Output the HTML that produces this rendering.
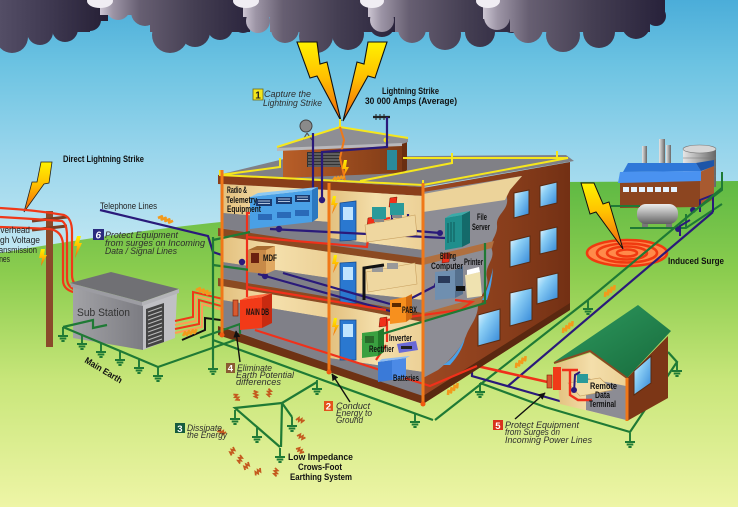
<!DOCTYPE html>
<html><head><meta charset="utf-8"><title>Lightning protection diagram</title>
<style>html,body{margin:0;padding:0;background:#fff;overflow:hidden}svg{display:block}
.lb{font-weight:bold;fill:#111;font-size:9px}
.it{font-style:italic;fill:#2e2e2e;font-size:9.5px}
.nm{fill:#222;font-size:9px}
</style></head><body>
<svg xmlns="http://www.w3.org/2000/svg" width="738" height="507" viewBox="0 0 738 507" font-family="'Liberation Sans', sans-serif">
<defs>
 <linearGradient id="sky" x1="0" y1="0" x2="0" y2="260" gradientUnits="userSpaceOnUse">
  <stop offset="0" stop-color="#4badd9"/><stop offset="0.25" stop-color="#6cc3e2"/><stop offset="0.6" stop-color="#9ad6ec"/><stop offset="1" stop-color="#c4e8f3"/>
 </linearGradient>
 <linearGradient id="grass" x1="0" y1="175" x2="0" y2="507" gradientUnits="userSpaceOnUse">
  <stop offset="0" stop-color="#5cb843"/><stop offset="0.3" stop-color="#8ccd4f"/><stop offset="0.62" stop-color="#c8e67a"/><stop offset="1" stop-color="#eef5a6"/>
 </linearGradient>
 <linearGradient id="cl1" gradientUnits="userSpaceOnUse" x1="-10" y1="0" x2="105" y2="0"><stop offset="0" stop-color="#58526a"/><stop offset="0.5" stop-color="#403a52"/><stop offset="1" stop-color="#262036"/></linearGradient>
 <linearGradient id="cl2" gradientUnits="userSpaceOnUse" x1="100" y1="0" x2="258" y2="0"><stop offset="0" stop-color="#cdc6d3"/><stop offset="0.08" stop-color="#9d95a6"/><stop offset="0.25" stop-color="#675f72"/><stop offset="0.6" stop-color="#443e52"/><stop offset="1" stop-color="#27213a"/></linearGradient>
 <linearGradient id="cl3" gradientUnits="userSpaceOnUse" x1="243" y1="0" x2="402" y2="0"><stop offset="0" stop-color="#cdc6d3"/><stop offset="0.08" stop-color="#9d95a6"/><stop offset="0.25" stop-color="#675f72"/><stop offset="0.6" stop-color="#443e52"/><stop offset="1" stop-color="#27213a"/></linearGradient>
 <linearGradient id="cl4" gradientUnits="userSpaceOnUse" x1="368" y1="0" x2="532" y2="0"><stop offset="0" stop-color="#cdc6d3"/><stop offset="0.08" stop-color="#9d95a6"/><stop offset="0.25" stop-color="#675f72"/><stop offset="0.6" stop-color="#443e52"/><stop offset="1" stop-color="#27213a"/></linearGradient>
 <linearGradient id="cl5" gradientUnits="userSpaceOnUse" x1="483" y1="0" x2="666" y2="0"><stop offset="0" stop-color="#cdc6d3"/><stop offset="0.08" stop-color="#9d95a6"/><stop offset="0.25" stop-color="#675f72"/><stop offset="0.6" stop-color="#443e52"/><stop offset="1" stop-color="#27213a"/></linearGradient>
 <linearGradient id="bolt" x1="0" y1="0" x2="0" y2="1"><stop offset="0" stop-color="#fff200"/><stop offset="0.45" stop-color="#ffc000"/><stop offset="1" stop-color="#f0600f"/></linearGradient>
 <linearGradient id="wall" gradientUnits="userSpaceOnUse" x1="423" y1="0" x2="570" y2="0"><stop offset="0" stop-color="#9c4822"/><stop offset="0.6" stop-color="#873d1b"/><stop offset="1" stop-color="#733014"/></linearGradient>
 <linearGradient id="win" x1="0" y1="0" x2="1" y2="1"><stop offset="0" stop-color="#eaf8ff"/><stop offset="0.35" stop-color="#8ccff5"/><stop offset="1" stop-color="#2f84d6"/></linearGradient>
 <linearGradient id="beige" x1="0" y1="0" x2="1" y2="0"><stop offset="0" stop-color="#e3c07e"/><stop offset="0.5" stop-color="#f4dfab"/><stop offset="1" stop-color="#ecd096"/></linearGradient>
 <linearGradient id="metal" x1="0" y1="0" x2="1" y2="0"><stop offset="0" stop-color="#e6e6e6"/><stop offset="0.5" stop-color="#a8a8a8"/><stop offset="1" stop-color="#666"/></linearGradient>
 <linearGradient id="metalv" x1="0" y1="0" x2="0" y2="1"><stop offset="0" stop-color="#ececec"/><stop offset="0.6" stop-color="#9a9a9a"/><stop offset="1" stop-color="#606060"/></linearGradient>
 <linearGradient id="roofG" x1="0" y1="0" x2="1" y2="1"><stop offset="0" stop-color="#2f9c60"/><stop offset="1" stop-color="#176a3c"/></linearGradient>
 <linearGradient id="subF" x1="0" y1="0" x2="1" y2="0"><stop offset="0" stop-color="#a2a2a6"/><stop offset="1" stop-color="#7c7c82"/></linearGradient>
 <linearGradient id="pent" x1="0" y1="0" x2="1" y2="0"><stop offset="0" stop-color="#b85e28"/><stop offset="1" stop-color="#7e3a16"/></linearGradient>
 <marker id="ah" viewBox="0 0 10 10" refX="9" refY="5" markerWidth="5" markerHeight="5" orient="auto"><path d="M0,0 L10,5 L0,10 Z" fill="#111"/></marker>
 <g id="gnd"><path d="M0,0v9M-5,9h10M-3.3,11.5h6.6M-1.6,14h3.2" stroke="#1f7a35" stroke-width="1.9" fill="none"/></g>
 <path id="sp" d="M0,0 l3,-3 l1,3 l3,-3 l1,3 l3,-3 l1,3 l3,-3" fill="none" stroke="#f29a1c" stroke-width="2.6" stroke-linejoin="round"/>
 <path id="sb" d="M0,0 l2,-3 l1,3 l2,-3 l1,3 l2,-3" fill="none" stroke="#c45a1e" stroke-width="1.8"/>
</defs>

<!-- background -->
<rect width="738" height="507" fill="url(#sky)"/>
<path d="M0,253 Q120,232 240,220 Q420,196 560,182 L738,181 L738,507 L0,507 Z" fill="url(#grass)"/>

<!-- clouds -->
<g fill="url(#cl1)"><rect x="-10" y="-5" width="118" height="26"/><circle cx="12" cy="37" r="16"/><circle cx="40" cy="32" r="13"/><circle cx="65" cy="29" r="13"/><circle cx="90" cy="20" r="11"/><rect x="-10" y="10" width="30" height="30"/><rect x="20" y="10" width="70" height="22"/></g>
<g fill="url(#cl2)"><rect x="100" y="-5" width="158" height="20"/><circle cx="118" cy="8" r="12"/><circle cx="145" cy="12" r="14"/><circle cx="170" cy="35" r="18"/><circle cx="195" cy="32" r="15"/><circle cx="220" cy="27" r="13"/><circle cx="243" cy="22" r="11"/><rect x="150" y="10" width="100" height="22"/></g>
<ellipse cx="100" cy="1" rx="13" ry="7" fill="#f0edf3"/>
<g fill="url(#cl3)"><rect x="243" y="-5" width="160" height="22"/><circle cx="258" cy="21" r="12"/><circle cx="285" cy="29" r="14"/><circle cx="316" cy="36" r="17"/><circle cx="348" cy="34" r="16"/><circle cx="382" cy="24" r="13"/><rect x="270" y="10" width="125" height="22"/></g>
<ellipse cx="246" cy="1" rx="13" ry="7" fill="#f0edf3"/>
<g fill="url(#cl4)"><rect x="368" y="-5" width="164" height="22"/><circle cx="382" cy="20" r="12"/><circle cx="412" cy="29" r="14"/><circle cx="445" cy="34" r="16"/><circle cx="480" cy="32" r="15"/><circle cx="512" cy="21" r="12"/><rect x="395" y="10" width="125" height="22"/></g>
<ellipse cx="372" cy="1" rx="12" ry="7" fill="#f0edf3"/>
<g fill="url(#cl5)"><rect x="483" y="-5" width="182" height="24"/><circle cx="497" cy="17" r="13"/><circle cx="528" cy="28" r="15"/><circle cx="563" cy="35" r="17"/><circle cx="599" cy="32" r="16"/><circle cx="636" cy="25" r="14"/><circle cx="656" cy="16" r="10"/><rect x="510" y="10" width="140" height="22"/></g>
<ellipse cx="488" cy="1" rx="12" ry="7" fill="#f0edf3"/>

<!-- main lightning bolts -->
<polygon points="297,42 317,42 320,64 327,62 341,121 317,76 310,78" fill="url(#bolt)" stroke="#111" stroke-width="1.1"/>
<polygon points="387,42 368,42 364,64 357,62 343,121 368,76 375,78" fill="url(#bolt)" stroke="#111" stroke-width="1.1"/>
<polygon points="52,162 41,162 37,182 32,182 24,212 44,184 49,183" fill="url(#bolt)" stroke="#222" stroke-width="0.8"/>

<!-- factory -->
<g>
 <rect x="642" y="146" width="5" height="20" fill="url(#metal)"/>
 <rect x="659" y="139" width="6" height="27" fill="url(#metal)"/>
 <rect x="666" y="145" width="5" height="21" fill="url(#metal)"/>
 <rect x="683" y="149" width="33" height="38" fill="url(#metal)"/>
 <ellipse cx="699.5" cy="149" rx="16.5" ry="4" fill="#d6d6d6" stroke="#777" stroke-width="0.6"/>
 <path d="M683,158h33M683,167h33M683,176h33" stroke="#777" stroke-width="0.6"/>
 <polygon points="620,182 700,180 700,207 620,208" fill="#8c4520"/>
 <polygon points="700,172 714,166 714,199 700,207" fill="#a85a30"/>
 <polygon points="628,163 696,163 701,171 623,172" fill="#2f78d8"/>
 <polygon points="620,172 701,171 701,181 618,183" fill="#4a92f0"/>
 <polygon points="696,163 714,160 714,166 701,171" fill="#1d55a8"/>
 <g fill="#e4f2ff"><rect x="623" y="187" width="6" height="5"/><rect x="631" y="187" width="6" height="5"/><rect x="639" y="187" width="6" height="5"/><rect x="647" y="187" width="6" height="5"/><rect x="655" y="187" width="6" height="5"/><rect x="663" y="187" width="6" height="5"/><rect x="671" y="187" width="6" height="5"/></g>
 <rect x="642" y="220" width="6" height="9" fill="#777"/><rect x="666" y="220" width="6" height="9" fill="#777"/>
 <rect x="637" y="204" width="41" height="20" rx="9" fill="url(#metalv)"/>
</g>
<g stroke="#1f7a35" stroke-width="2" fill="none">
 <path d="M611,206 L640,206"/><path d="M630,228 L686,228 L722,204"/><path d="M700,207 L722,190 L722,172"/><path d="M686,228 L686,214"/>
</g>
<g stroke="#2a1a7a" stroke-width="2" fill="none"><path d="M713,212 L713,195 L700,200 L700,212"/><path d="M690,220 L680,226 L680,236"/></g>
<circle cx="693" cy="210" r="3" fill="#2a1a7a"/><circle cx="678" cy="229" r="3" fill="#2a1a7a"/>

<!-- induced surge -->
<ellipse cx="627" cy="253" rx="41" ry="14" fill="#ff8a4a"/>
<g fill="none" stroke="#f03a10" stroke-width="2.6"><ellipse cx="627" cy="253" rx="40" ry="13"/><ellipse cx="627" cy="253" rx="30" ry="9.5"/><ellipse cx="627" cy="253" rx="20" ry="6.5"/><ellipse cx="627" cy="253" rx="10" ry="3.5"/></g>
<polygon points="581,183 594,183 603,204 609,202 623,249 596,212 590,214" fill="url(#bolt)" stroke="#111" stroke-width="1"/>

<!-- long earth / signal lines -->
<g fill="none" stroke-width="2.2">
 <path d="M435,420 L588,300 L722,188" stroke="#1f7a35"/>
 <path d="M480,383 L545,407 L630,432 L677,362 L668,352" stroke="#1f7a35"/>
 <path d="M472,300 L472,376 L570,404" stroke="#2a1a7a"/>
 <path d="M508,386 L713,212" stroke="#2a1a7a"/>
 <path d="M423,393 L477,366 L552,383" stroke="#f0301a" stroke-width="2.6"/>
</g>
<use href="#gnd" x="588" y="300"/><use href="#gnd" x="480" y="383"/><use href="#gnd" x="630" y="433"/><use href="#gnd" x="677" y="362"/>
<use href="#sp" transform="translate(516,368) rotate(-40)"/><use href="#sp" transform="translate(563,333) rotate(-40)"/><use href="#sp" transform="translate(605,297) rotate(-40)"/><use href="#sp" transform="translate(448,395) rotate(-40)"/>

<!-- remote house -->
<polygon points="627,378 668,336 668,398 627,421" fill="#7c3616"/>
<polygon points="634,371 651,356 651,383 634,395" fill="url(#win)" stroke="#5a2a10" stroke-width="1"/>
<polygon points="556,364 590,353 626,378 626,420 560,404" fill="url(#beige)"/>
<polygon points="586,378 626,386 626,420 586,410" fill="#8c8c94"/>
<polygon points="568,383 600,378 612,390 580,396" fill="#f2dca6" stroke="#c8a060" stroke-width="0.6"/>
<rect x="577" y="374" width="11" height="9" fill="#2a9a9a"/>
<polygon points="554,362 638,305 671,331 627,378 590,351" fill="url(#roofG)"/>
<path d="M554,363 L590,351 L627,378" fill="none" stroke="#8a4a22" stroke-width="2"/>
<path d="M627,378 L627,421" stroke="#f07818" stroke-width="3"/>
<path d="M562,370 L578,370 M570,370 L570,395 L578,400 L592,400" fill="none" stroke="#f0301a" stroke-width="2.4"/>
<path d="M574,392 L575,375 L580,372" stroke="#2a1a7a" stroke-width="2" fill="none"/>
<circle cx="574" cy="390" r="3" fill="#2a1a7a"/>
<rect x="553" y="367" width="8" height="23" fill="#f03a18"/>
<rect x="547" y="375" width="5" height="13" fill="#d85a30" stroke="#7a1a00" stroke-width="0.6"/>

<!-- pole and wires -->
<rect x="46" y="211" width="7" height="136" fill="#8a4a2a"/>
<path d="M32,221 L67,217 M32,230 L67,226" stroke="#7a3e22" stroke-width="3"/>
<g fill="none" stroke="#f03818" stroke-width="2.2">
 <path d="M0,208 Q35,210 64,215 Q72,218 72,232 L72,275 Q72,287 86,289"/>
 <path d="M0,217 Q35,219 62,221 Q67,224 67,236 L67,278 Q67,290 82,291"/>
 <path d="M0,227 Q30,228 50,229 Q62,231 63,244 L63,280 Q63,291 78,293"/>
</g>
<polygon points="81,236 77,236 74,246 77,246 75,258 82,243 79,243" fill="url(#bolt)"/>
<polygon points="45,249 41,249 39,258 42,258 41,266 47,255 44,255" fill="url(#bolt)"/>

<!-- substation -->
<polygon points="73,287 143,305 143,350 73,338" fill="url(#subF)"/>
<polygon points="143,305 177,293 175,338 143,350" fill="#c0c0c4"/>
<polygon points="146,309 164,303 164,342 146,348" fill="#444"/>
<path d="M148,312 L162,307 M148,316 L162,311 M148,320 L162,315 M148,324 L162,319 M148,328 L162,323 M148,332 L162,327 M148,336 L162,331 M148,340 L162,335 M148,344 L162,339" stroke="#bbb" stroke-width="1"/>
<polygon points="70,283 111,272 179,289 142,302" fill="#707074"/>
<polygon points="70,283 142,302 142,306 71,287" fill="#9c9ca2"/>
<polygon points="142,302 179,289 179,293 142,306" fill="#b4b4b8"/>
<g fill="none" stroke-width="2">
 <path d="M175,321 L193,317 L193,292 L236,302" stroke="#f03818"/>
 <path d="M175,325 L196,321 L196,296 L236,306" stroke="#ff9a55"/>
 <path d="M175,329 L199,324 L199,300 L236,310" stroke="#f03818"/>
 <path d="M175,333 L202,327 L202,304 L236,314" stroke="#ff9a55"/>
 <path d="M182,340 L205,330 L205,318 L236,322" stroke="#111"/>
</g>
<use href="#sp" transform="translate(196,290) rotate(20)"/><use href="#sp" transform="translate(183,336) rotate(-15)"/><use href="#sp" transform="translate(158,218) rotate(22)"/>

<!-- telephone line -->
<path d="M100,210 L208,236 L213,252 L242,262" fill="none" stroke="#2a1a7a" stroke-width="2.2"/>

<!-- building right wall -->
<polygon points="423,188 570,162 570,310 423,404" fill="url(#wall)"/>
<polygon points="423,396 570,303 570,310 423,404" fill="#5a2810"/>
<g fill="url(#win)" stroke="#5a2a10" stroke-width="1">
 <polygon points="540,186 557,182 557,203 540,207"/>
 <polygon points="514,193 529,190 529,214 514,218"/>
 <polygon points="540,231 557,227 557,250 540,254"/>
 <polygon points="510,241 530,236 530,262 510,267"/>
 <polygon points="537,278 558,273 558,298 537,304"/>
 <polygon points="510,293 532,288 532,320 510,326"/>
 <polygon points="478,315 500,309 500,340 478,346"/>
</g>
<!-- torn hole interior -->
<path d="M423,192 L522,176 C515,185 505,190 507,198 C509,210 496,214 497,225 C498,236 489,240 492,250 C495,260 484,266 487,278 C490,290 478,296 478,305 C478,318 470,325 466,336 C460,350 448,362 438,370 L423,378 Z" fill="#8d8d95"/>
<polygon points="423,194 522,176 510,190 505,200 423,212" fill="#ecd39a"/>
<polygon points="423,258 494,241 492,248 423,265" fill="#b07040"/>
<polygon points="423,313 484,296 481,304 423,322" fill="#b07040"/>
<path d="M493,268 Q488,290 482,300 L487,300 Q492,285 493,268 Z" fill="#4aa0e6"/>
<path d="M465,338 Q455,358 443,365 L450,365 Q462,352 465,338 Z" fill="#4aa0e6"/>

<!-- roof -->
<polygon points="218,175 292,157 566,155 574,161 423,187" fill="#808086"/>
<polygon points="218,175 423,187 423,196 218,184" fill="#8a3e1a"/>
<!-- penthouse -->
<polygon points="283,148 402,143 402,173 283,178" fill="url(#pent)"/>
<polygon points="402,143 407,141 407,170 402,173" fill="#6a2e10"/>
<rect x="307" y="152" width="34" height="15" fill="#333"/>
<path d="M308,154h32M308,157h32M308,160h32M308,163h32M308,166h32" stroke="#888" stroke-width="0.9"/>
<rect x="387" y="150" width="10" height="20" fill="#2a8a9a"/>
<polygon points="277,148 340,127 408,138 408,142 402,144 283,150" fill="#8e8e94"/>
<polygon points="277,148 402,143 402,146 277,151" fill="#b8b8bc"/>
<!-- dish & antenna -->
<path d="M307,133 L303,140 M307,133 L312,140" stroke="#555" stroke-width="1.2"/>
<circle cx="306" cy="126" r="6" fill="#8a8a8a" stroke="#444" stroke-width="1"/>
<path d="M373,117 L390,117" stroke="#222" stroke-width="2.2"/>
<path d="M376,114v6M380,114v6M384,114v6" stroke="#222" stroke-width="1"/>
<!-- yellow conductors -->
<g fill="none" stroke="#f6e71c" stroke-width="2">
 <path d="M340,119 L340,127"/>
 <path d="M277,147 L340,127 L408,138"/>
 <path d="M220,170 L220,175 L423,185 L568,158 L557,158 L557,151"/>
 <path d="M403,158 L557,158"/>
 <path d="M220,175 L280,167 L280,158"/>
 <path d="M360,181 L452,163 L452,153"/>
 <path d="M423,180 L423,186"/>
</g>
<path d="M340,127 L344,140 L340,158 L345,180" fill="none" stroke="#f07818" stroke-width="2"/>
<circle cx="386" cy="140" r="2.5" fill="#f6e71c"/>

<!-- front cutaway background -->
<polygon points="222,184 423,196 423,404 222,335" fill="#85858d"/>
<!-- left bay -->
<polygon points="222,184 329,190 329,222 222,213" fill="url(#beige)"/>
<polygon points="222,213 329,222 329,245 222,228" fill="#7f7f87"/>
<polygon points="218,228 329,245 329,252 218,236" fill="#8b4a22"/>
<polygon points="222,236 329,252 329,278 222,262" fill="url(#beige)"/>
<polygon points="222,262 329,278 329,297 222,278" fill="#7f7f87"/>
<polygon points="218,278 329,297 329,304 218,286" fill="#8b4a22"/>
<polygon points="222,286 329,304 329,318 222,300" fill="url(#beige)"/>
<polygon points="222,300 329,318 329,364 222,326" fill="#808088"/>
<polygon points="218,326 329,364 329,372 218,335" fill="#6e3214"/>
<!-- middle bay -->
<polygon points="329,190 423,196 423,250 329,238" fill="url(#beige)"/>
<polygon points="329,238 423,250 423,258 329,245" fill="#7f7f87"/>
<polygon points="329,245 423,258 423,265 329,252" fill="#8b4a22"/>
<polygon points="329,252 423,265 423,300 329,290" fill="url(#beige)"/>
<polygon points="329,290 423,300 423,313 329,297" fill="#7f7f87"/>
<polygon points="329,297 423,313 423,322 329,304" fill="#8b4a22"/>
<polygon points="329,304 423,322 423,372 329,358" fill="url(#beige)"/>
<polygon points="329,358 423,372 423,396 329,364" fill="#7f7f87"/>
<polygon points="329,364 423,396 423,404 329,372" fill="#6e3214"/>
<!-- doors -->
<g fill="#2a78d0" stroke="#1a4a8a" stroke-width="0.8">
 <polygon points="340,203 356,201 356,240 340,241"/>
 <polygon points="340,263 356,262 356,303 340,303"/>
 <polygon points="340,320 356,320 356,360 340,360"/>
</g>
<g fill="#bfe4ff"><rect x="343" y="207" width="10" height="13"/><rect x="343" y="267" width="10" height="13"/><rect x="343" y="324" width="10" height="13"/></g>

<!-- interior wiring (behind equipment) -->
<g fill="none" stroke-width="2.2">
 <path d="M313,133 L313,198" stroke="#2a1a7a"/>
 <path d="M387,117 L387,147 L322,152 L322,200" stroke="#2a1a7a"/>
 <path d="M270,229 L445,238" stroke="#2a1a7a"/>
 <path d="M392,214 L392,229 L440,233 M408,214 L408,230" stroke="#2a1a7a"/>
 <path d="M258,274 L397,313" stroke="#2a1a7a"/>
 <path d="M283,273 L390,304" stroke="#2a1a7a"/>
 <path d="M408,300 L437,285" stroke="#2a1a7a"/>
 <path d="M247,297 L247,213 L252,213" stroke="#f0301a"/>
 <path d="M247,237 L367,247 L370,222 L390,218" stroke="#f0301a"/>
 <path d="M247,287 L386,310" stroke="#f0301a"/>
 <path d="M255,330 L430,386 L477,366" stroke="#f0301a"/>
 <path d="M455,300 L472,302 L460,310 L387,320 L387,342" stroke="#f0301a"/>
 <path d="M386,345 L376,360" stroke="#f0301a"/>
 <path d="M485,243 L485,303 L362,340" stroke="#1f7a35"/>
 <path d="M213,240 L250,232" stroke="#1f7a35"/>
 <path d="M213,265 L250,270" stroke="#1f7a35"/>
 <path d="M200,338 L240,324 L240,334" stroke="#1f7a35"/>
</g>
<g fill="#2a1a7a"><circle cx="313" cy="198" r="3.2"/><circle cx="322" cy="200" r="3.2"/><circle cx="392" cy="222" r="3"/><circle cx="408" cy="222" r="3"/><circle cx="440" cy="233" r="3"/><circle cx="242" cy="262" r="3.2"/><circle cx="265" cy="276" r="3.2"/><circle cx="279" cy="229" r="3.2"/><circle cx="437" cy="285" r="3"/></g>
<g fill="#f0301a" stroke="#7a1000" stroke-width="0.5"><polygon points="390,198 397,197 396,206 389,207"/><polygon points="368,218 375,217 374,226 367,227"/><polygon points="443,254 450,253 449,262 442,263"/><polygon points="380,318 387,317 386,326 379,327"/></g>

<!-- equipment -->
<polygon points="250,197 312,190 312,222 250,229" fill="#4aa0e6"/>
<polygon points="250,197 258,193 318,187 312,190" fill="#8cc8f4"/>
<polygon points="312,190 318,187 318,218 312,222" fill="#2a78c0"/>
<g fill="#1a3a70"><rect x="256" y="199" width="16" height="7"/><rect x="276" y="197" width="16" height="7"/><rect x="295" y="195" width="15" height="7"/></g>
<path d="M258,201h12M258,203.5h12M278,199h12M278,201.5h12M297,197h11M297,199.5h11" stroke="#dfefff" stroke-width="0.8"/>
<g fill="#2a6ab8"><rect x="258" y="214" width="14" height="6"/><rect x="277" y="212" width="14" height="6"/><rect x="295" y="210" width="14" height="6"/></g>

<polygon points="248,250 266,250 266,274 248,272" fill="#c88a48"/>
<polygon points="266,250 275,246 275,270 266,274" fill="#e0a860"/>
<polygon points="248,250 257,246 275,246 266,250" fill="#a86c30"/>
<rect x="251" y="253" width="8" height="10" fill="#6a2010"/>

<polygon points="240,300 262,297 262,328 240,330" fill="#f23a18"/>
<polygon points="262,297 272,293 272,323 262,328" fill="#c82a10"/>
<polygon points="240,300 250,296 272,293 262,297" fill="#ff6a40"/>
<rect x="233" y="300" width="5" height="16" fill="#d85a30" stroke="#7a1a00" stroke-width="0.6"/>

<polygon points="365,225 415,215 417,235 367,242" fill="#efd7a0" stroke="#c8a060" stroke-width="0.6"/>
<rect x="372" y="207" width="14" height="12" fill="#2a9a9a"/><rect x="390" y="203" width="14" height="12" fill="#2a9a9a"/>
<rect x="374" y="219" width="10" height="3" fill="#888"/><rect x="392" y="215" width="10" height="3" fill="#888"/>

<polygon points="366,272 415,263 417,284 368,292" fill="#efd7a0" stroke="#c8a060" stroke-width="0.6"/>
<rect x="372" y="266" width="11" height="6" fill="#999"/><rect x="387" y="263" width="11" height="6" fill="#999"/>
<path d="M364,300 L364,268 L384,265" fill="none" stroke="#111" stroke-width="3"/>

<polygon points="390,300 406,297 406,322 390,324" fill="#f7901e"/>
<polygon points="406,297 412,294 412,318 406,322" fill="#d06a10"/>
<rect x="392" y="303" width="9" height="4" fill="#5a2a00"/>

<polygon points="362,333 378,331 378,356 362,358" fill="#3aa040"/>
<polygon points="378,331 384,328 384,352 378,356" fill="#237a2a"/>
<rect x="365" y="336" width="9" height="7" fill="#2a6a2a"/>

<polygon points="397,344 416,341 418,350 399,353" fill="#6a6ad6"/>
<rect x="401" y="346" width="11" height="3" fill="#222"/>

<polygon points="378,362 392,360 392,380 378,382" fill="#3a7ad8"/>
<polygon points="392,360 406,358 406,378 392,380" fill="#4c8ae6"/>
<polygon points="378,362 382,359 410,356 406,358" fill="#8cbcf4"/>

<polygon points="445,218 462,215 462,247 445,250" fill="#1f8e8c"/>
<polygon points="462,215 470,211 470,243 462,247" fill="#146a6a"/>
<polygon points="445,218 452,214 470,211 462,215" fill="#3aaaa8"/>
<path d="M448,223v20M451,222v20M454,222v20" stroke="#0f5a5a" stroke-width="1"/>

<polygon points="435,272 455,270 455,298 435,300" fill="#6f8fb0"/>
<polygon points="455,270 463,266 463,294 455,298" fill="#55708e"/>
<rect x="438" y="276" width="12" height="7" fill="#2a3a5a"/>
<rect x="456" y="286" width="9" height="5" fill="#111"/>
<polygon points="465,275 480,272 482,296 467,298" fill="#efe2b0"/>
<polygon points="467,270 479,267 480,272 467,275" fill="#fff"/>

<!-- pipes -->
<g stroke="#f07818" stroke-width="3"><path d="M222,170 L222,335"/><path d="M329,183 L329,372"/><path d="M423,183 L423,404"/></g>
<g fill="#f05a10"><circle cx="222" cy="335" r="2.5"/><circle cx="329" cy="372" r="2.5"/><circle cx="423" cy="404" r="2.5"/></g>
<g fill="url(#bolt)">
 <polygon points="336,196 333,196 331,205 334,205 332,214 338,203 335,203"/>
 <polygon points="337,255 334,255 332,264 335,264 333,273 339,262 336,262"/>
 <polygon points="337,318 334,318 332,327 335,327 333,336 339,325 336,325"/>
 <polygon points="347,160 344,160 342,169 345,169 343,178 349,167 346,167"/>
</g>
<use href="#sp" transform="translate(333,180) rotate(-8) scale(0.8)"/>

<!-- earth grid -->
<g fill="none" stroke="#1f7a35" stroke-width="2.2">
 <path d="M63,327 L158,367 L235,340"/>
 <path d="M63,327 L93,320 L93,328 L107,325"/>
 <path d="M213,237 L213,360"/>
 <path d="M213,340 L317,378 L433,420"/>
 <path d="M282,403 L317,382"/>
 <path d="M282,403 L235,408 L257,427 L280,447"/>
 <path d="M282,403 L281,447"/>
 <path d="M282,403 L292,417"/>
</g>
<use href="#gnd" x="63" y="327"/><use href="#gnd" x="82" y="335"/><use href="#gnd" x="101" y="343"/><use href="#gnd" x="120" y="351"/><use href="#gnd" x="139" y="359"/><use href="#gnd" x="158" y="367"/>
<use href="#gnd" x="213" y="360"/><use href="#gnd" x="317" y="380"/><use href="#gnd" x="415" y="413"/>
<use href="#gnd" x="235" y="410"/><use href="#gnd" x="257" y="428"/><use href="#gnd" x="280" y="448"/><use href="#gnd" x="292" y="417"/>
<use href="#sb" transform="translate(240,400) rotate(-120)"/>
<use href="#sb" transform="translate(258,398) rotate(-100)"/>
<use href="#sb" transform="translate(270,397) rotate(-80)"/>
<use href="#sb" transform="translate(226,432) rotate(-160)"/>
<use href="#sb" transform="translate(233,447) rotate(120)"/>
<use href="#sb" transform="translate(240,455) rotate(110)"/>
<use href="#sb" transform="translate(248,462) rotate(130)"/>
<use href="#sb" transform="translate(260,468) rotate(140)"/>
<use href="#sb" transform="translate(275,468) rotate(100)"/>
<use href="#sb" transform="translate(296,420) rotate(20)"/>
<use href="#sb" transform="translate(297,436) rotate(30)"/>
<use href="#sb" transform="translate(296,449) rotate(40)"/>

<!-- arrows -->
<path d="M240,362 L236,331" stroke="#111" stroke-width="1.4" marker-end="url(#ah)"/>
<path d="M350,402 L332,374" stroke="#111" stroke-width="1.4" marker-end="url(#ah)"/>
<path d="M515,419 L545,393" stroke="#111" stroke-width="1.4" marker-end="url(#ah)"/>

<!-- labels -->
<rect x="253" y="89" width="10" height="11" fill="#f3e61c" stroke="#6a6a20" stroke-width="0.8"/>
<text x="255.3" y="98.5" font-size="10" font-weight="bold" fill="#222">1</text>
<text x="264" y="97" class="it" textLength="47" lengthAdjust="spacingAndGlyphs">Capture the</text>
<text x="263" y="106" class="it" textLength="59" lengthAdjust="spacingAndGlyphs">Lightning Strike</text>
<text x="382" y="94" class="lb" textLength="57" lengthAdjust="spacingAndGlyphs">Lightning Strike</text>
<text x="365" y="104" class="lb" textLength="92" lengthAdjust="spacingAndGlyphs">30 000 Amps (Average)</text>
<text x="63" y="162" class="lb" textLength="81" lengthAdjust="spacingAndGlyphs">Direct Lightning Strike</text>
<text x="100" y="209" class="nm" textLength="57" lengthAdjust="spacingAndGlyphs">Telephone Lines</text>
<rect x="93" y="229" width="11" height="11" fill="#2b2b7e"/>
<text x="95.5" y="238.5" font-size="10" font-weight="bold" font-style="italic" fill="#fff">6</text>
<text x="105" y="238" class="it" font-size="10" textLength="73" lengthAdjust="spacingAndGlyphs">Protect Equipment</text>
<text x="105" y="246" class="it" font-size="10" textLength="100" lengthAdjust="spacingAndGlyphs">from surges on Incoming</text>
<text x="105" y="254" class="it" font-size="10" textLength="72" lengthAdjust="spacingAndGlyphs">Data / Signal Lines</text>
<text x="-6" y="233" class="nm" textLength="36" lengthAdjust="spacingAndGlyphs">Overhead</text>
<text x="-8" y="243" class="nm" textLength="48" lengthAdjust="spacingAndGlyphs">High Voltage</text>
<text x="-8" y="253" class="nm" textLength="45" lengthAdjust="spacingAndGlyphs">Transmission</text>
<text x="-6" y="262" class="nm" textLength="16" lengthAdjust="spacingAndGlyphs">Lines</text>
<text x="77" y="316" font-size="11" fill="#333" textLength="53" lengthAdjust="spacingAndGlyphs">Sub Station</text>
<text x="84" y="362" class="lb" transform="rotate(31 84 362)" textLength="42" lengthAdjust="spacingAndGlyphs">Main Earth</text>
<text x="227" y="193" class="lb" font-size="8.5" textLength="20" lengthAdjust="spacingAndGlyphs">Radio &amp;</text>
<text x="226" y="203" class="lb" font-size="8.5" textLength="31" lengthAdjust="spacingAndGlyphs">Telemetry</text>
<text x="227" y="212" class="lb" font-size="8.5" textLength="34" lengthAdjust="spacingAndGlyphs">Equipment</text>
<text x="263" y="261" class="lb" font-size="8.5" textLength="14" lengthAdjust="spacingAndGlyphs">MDF</text>
<text x="246" y="315" class="lb" font-size="8" fill="#4a0a00" textLength="23" lengthAdjust="spacingAndGlyphs">MAIN DB</text>
<text x="477" y="220" class="lb" font-size="8.5" textLength="10" lengthAdjust="spacingAndGlyphs">File</text>
<text x="472" y="230" class="lb" font-size="8.5" textLength="18" lengthAdjust="spacingAndGlyphs">Server</text>
<text x="440" y="259" class="lb" font-size="8.5" textLength="16" lengthAdjust="spacingAndGlyphs">Billing</text>
<text x="431" y="269" class="lb" font-size="8.5" textLength="32" lengthAdjust="spacingAndGlyphs">Computer</text>
<text x="464" y="265" class="lb" font-size="8.5" textLength="19" lengthAdjust="spacingAndGlyphs">Printer</text>
<text x="402" y="313" class="lb" font-size="8.5" textLength="15" lengthAdjust="spacingAndGlyphs">PABX</text>
<text x="389" y="341" class="lb" font-size="8.5" textLength="23" lengthAdjust="spacingAndGlyphs">Inverter</text>
<text x="369" y="352" class="lb" font-size="8.5" textLength="25" lengthAdjust="spacingAndGlyphs">Rectifier</text>
<text x="393" y="381" class="lb" font-size="8.5" textLength="26" lengthAdjust="spacingAndGlyphs">Batteries</text>
<rect x="226" y="363" width="9" height="10" fill="#8a5a32"/>
<text x="227.8" y="371.5" font-size="9.5" font-weight="bold" fill="#fff">4</text>
<text x="237" y="371" class="it" font-size="9" textLength="35" lengthAdjust="spacingAndGlyphs">Eliminate</text>
<text x="236" y="378" class="it" font-size="9" textLength="58" lengthAdjust="spacingAndGlyphs">Earth Potential</text>
<text x="236" y="385" class="it" font-size="9" textLength="45" lengthAdjust="spacingAndGlyphs">differences</text>
<rect x="324" y="401" width="9" height="10" fill="#e2521c"/>
<text x="325.8" y="409.5" font-size="9.5" font-weight="bold" fill="#fff">2</text>
<text x="336" y="409" class="it" font-size="9" textLength="34" lengthAdjust="spacingAndGlyphs">Conduct</text>
<text x="336" y="416" class="it" font-size="9" textLength="36" lengthAdjust="spacingAndGlyphs">Energy to</text>
<text x="336" y="423" class="it" font-size="9" textLength="27" lengthAdjust="spacingAndGlyphs">Ground</text>
<rect x="175" y="423" width="10" height="10" fill="#175c3e"/>
<text x="177.2" y="431.8" font-size="9.5" font-weight="bold" fill="#fff">3</text>
<text x="187" y="431" class="it" font-size="9" textLength="35" lengthAdjust="spacingAndGlyphs">Dissipate</text>
<text x="187" y="438" class="it" font-size="9" textLength="40" lengthAdjust="spacingAndGlyphs">the Energy</text>
<text x="288" y="460" class="lb" font-size="9" textLength="65" lengthAdjust="spacingAndGlyphs">Low Impedance</text>
<text x="298" y="470" class="lb" font-size="9" textLength="44" lengthAdjust="spacingAndGlyphs">Crows-Foot</text>
<text x="290" y="480" class="lb" font-size="9" textLength="62" lengthAdjust="spacingAndGlyphs">Earthing System</text>
<rect x="493" y="420" width="10" height="10" fill="#d8321c"/>
<text x="495.2" y="428.8" font-size="9.5" font-weight="bold" fill="#fff">5</text>
<text x="505" y="428" class="it" font-size="9" textLength="74" lengthAdjust="spacingAndGlyphs">Protect Equipment</text>
<text x="505" y="435" class="it" font-size="9" textLength="55" lengthAdjust="spacingAndGlyphs">from Surges on</text>
<text x="505" y="443" class="it" font-size="9" textLength="87" lengthAdjust="spacingAndGlyphs">Incoming Power Lines</text>
<text x="668" y="264" class="lb" font-size="9" textLength="56" lengthAdjust="spacingAndGlyphs">Induced Surge</text>
<text x="590" y="389" class="lb" font-size="8" textLength="27" lengthAdjust="spacingAndGlyphs">Remote</text>
<text x="595" y="398" class="lb" font-size="8" textLength="15" lengthAdjust="spacingAndGlyphs">Data</text>
<text x="589" y="407" class="lb" font-size="8" textLength="27" lengthAdjust="spacingAndGlyphs">Terminal</text>
</svg>
</body></html>
